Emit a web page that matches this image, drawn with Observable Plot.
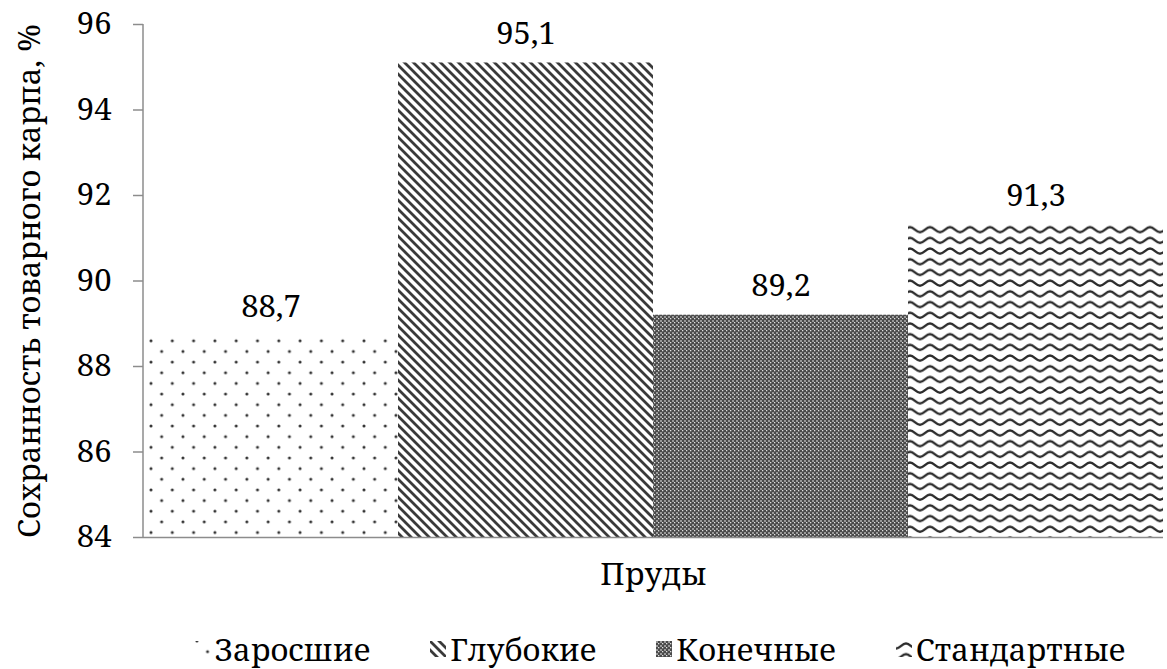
<!DOCTYPE html>
<html>
<head>
<meta charset="utf-8">
<script src="https://cdn.jsdelivr.net/npm/d3@7"></script>
<script src="https://cdn.jsdelivr.net/npm/@observablehq/plot@0.6"></script>
<style>
  html, body { margin: 0; padding: 0; background: #fff; }
  body { width: 1167px; height: 669px; overflow: hidden; position: relative; font-family: "Noto Serif", "Liberation Serif", serif; }
  #legend { position: absolute; left: 0; top: 622px; width: 1320px; height: 54px;
            display: flex; justify-content: center; align-items: center; gap: 60px;
            font-size: 31px; color: #000; }
  #legend .item { display: flex; align-items: center; }
  #legend svg { margin-right: 4px; }
</style>
</head>
<body>
<svg width="0" height="0" style="position:absolute">
  <defs>
    <pattern id="pat-dots" patternUnits="userSpaceOnUse" width="21.3" height="21.3" x="151" y="0">
      <rect width="21.3" height="21.3" fill="#fff"/>
      <circle cx="0" cy="0" r="1.5" fill="#333"/>
      <circle cx="21.3" cy="0" r="1.5" fill="#333"/>
      <circle cx="0" cy="21.3" r="1.5" fill="#333"/>
      <circle cx="21.3" cy="21.3" r="1.5" fill="#333"/>
      <circle cx="10.65" cy="10.65" r="1.5" fill="#333"/>
    </pattern>
    <pattern id="pat-diag" patternUnits="userSpaceOnUse" width="9" height="9">
      <rect width="9" height="9" fill="#fff"/>
      <path d="M-2,-2 L11,11 M-2,7 L2,11 M7,-2 L11,2" stroke="#3a3a3a" stroke-width="2.8"/>
    </pattern>
    <pattern id="pat-check" patternUnits="userSpaceOnUse" width="4" height="4">
      <rect width="4" height="4" fill="#4a4a4a"/>
      <rect x="0" y="0" width="2" height="2" fill="#9a9a9a"/>
      <rect x="2" y="2" width="1.3" height="1.3" fill="#e0e0e0"/>
    </pattern>
    <pattern id="pat-wave" patternUnits="userSpaceOnUse" width="20" height="10.7">
      <rect width="20" height="10.7" fill="#fff"/>
      <path d="M0,7.5 C4,7.5 6,2.5 10,2.5 C14,2.5 16,7.5 20,7.5" fill="none" stroke="#2a2a2a" stroke-width="2.4"/>
    </pattern>
  </defs>
</svg>
<div id="chart"></div>
<div id="legend"></div>
<script>
// Сохранность товарного карпа по типам прудов
const ponds = ["Заросшие", "Глубокие", "Конечные", "Стандартные"];
const survival = [88.7, 95.1, 89.2, 91.3];
const patterns = ["url(#pat-dots)", "url(#pat-diag)", "url(#pat-check)", "url(#pat-wave)"];
const yTicks = [84, 86, 88, 90, 92, 94, 96];

const rows = ponds.map((pond, i) => ({pond, value: survival[i], fill: patterns[i]}));
const fmt = v => v.toFixed(1).replace(".", ",");
const axisColor = "#8c8c8c";
const font = "'Noto Serif', 'Liberation Serif', serif";

const chart = Plot.plot({
  width: 1167,
  height: 615,
  marginTop: 24,
  marginBottom: 78,
  marginLeft: 143,
  marginRight: 4,
  style: {fontFamily: font, fontSize: "31px", color: "#000", background: "#fff"},
  x: {domain: ponds, padding: 0, axis: null},
  y: {domain: [84, 96], axis: null},
  color: {type: "identity"},
  marks: [
    Plot.barY(rows, {x: "pond", y1: 84, y2: "value", fill: "fill"}),
    // axis lines
    Plot.ruleY([84], {stroke: axisColor, strokeWidth: 1.5}),
    (index, {y}, values, dims) => {
      const g = d3.create("svg:g");
      g.append("line")
        .attr("x1", dims.marginLeft).attr("x2", dims.marginLeft)
        .attr("y1", y(96)).attr("y2", y(84))
        .attr("stroke", axisColor).attr("stroke-width", 1.5);
      return g.node();
    },
    Plot.axisY({ticks: yTicks, tickSize: 10, tickPadding: 22, stroke: axisColor, strokeWidth: 1.5, fill: "#000", label: null, tickFormat: d => String(d)}),
    Plot.text(rows, {x: "pond", y: "value", text: d => fmt(d.value), dy: -29, fill: "#000"}),
    Plot.text(["Пруды"], {frameAnchor: "bottom", dy: 47, fill: "#000"}),
    Plot.text(["Сохранность товарного карпа, %"], {frameAnchor: "left", textAnchor: "middle", dx: -113, rotate: -90, fill: "#000"})
  ]
});
document.getElementById("chart").appendChild(chart);

// legend below the chart
const legend = d3.select("#legend");
ponds.forEach((pond, i) => {
  const item = legend.append("div").attr("class", "item");
  item.append("svg").attr("width", 16).attr("height", 16)
    .append("rect").attr("width", 16).attr("height", 16).attr("fill", patterns[i]);
  item.append("span").text(pond);
});
</script>
</body>
</html>
